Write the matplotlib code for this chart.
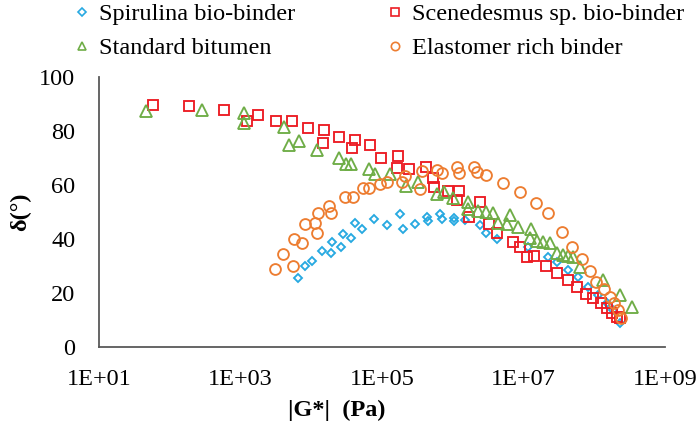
import matplotlib
matplotlib.use("Agg")
import matplotlib.pyplot as plt
from matplotlib.lines import Line2D

plt.rcParams['font.family'] = ['Liberation Serif', 'DejaVu Serif']

# |G*| (Pa) and phase angle (deg) for each binder
spir_g = [6.50e3, 8.16e3, 1.03e4, 1.42e4, 1.90e4, 1.96e4, 2.63e4, 2.81e4, 3.65e4, 4.15e4,
          5.21e4, 7.71e4, 1.18e5, 1.80e5, 1.98e5, 2.93e5, 4.32e5, 4.47e5, 6.60e5, 7.05e5,
          1.04e6, 1.04e6, 1.49e6, 2.43e6, 2.95e6, 4.22e6, 1.16e7, 2.22e7, 2.97e7, 4.26e7,
          5.89e7, 8.16e7, 1.13e8, 1.51e8, 1.84e8, 2.31e8]
spir_d = [25.6, 30.0, 31.9, 35.6, 34.8, 38.9, 37.0, 41.9, 40.4, 45.9,
          43.7, 47.4, 45.2, 49.3, 43.7, 45.6, 48.1, 46.7, 49.3, 47.4,
          47.8, 46.7, 47.0, 45.2, 42.2, 40.0, 37.0, 33.3, 31.5, 28.5,
          25.9, 22.2, 19.3, 16.3, 13.7, 8.9]

scen_g = [5.8e1, 1.87e2, 5.85e2, 1.24e3, 1.77e3, 3.18e3, 5.35e3, 9.0e3, 1.51e4, 1.47e4,
          2.47e4, 4.15e4, 3.77e4, 6.76e4, 9.7e4, 1.68e5, 1.63e5, 2.41e5, 4.19e5, 5.26e5,
          5.44e5, 8.57e5, 1.22e6, 1.15e6, 2.43e6, 1.70e6, 3.25e6, 4.22e6, 7.11e6, 8.93e6,
          1.12e7, 1.41e7, 2.08e7, 2.97e7, 4.26e7, 5.70e7, 7.64e7, 9.6e7, 1.24e8, 1.51e8,
          1.78e8, 2.10e8, 2.31e8]
scen_d = [89.6, 89.3, 87.8, 83.7, 85.9, 83.7, 83.7, 81.1, 80.4, 75.6,
          77.8, 76.7, 73.7, 74.8, 70.0, 70.7, 66.3, 65.9, 66.7, 62.6,
          59.3, 57.8, 57.8, 54.4, 53.7, 48.1, 45.6, 42.2, 38.9, 37.0,
          33.3, 33.7, 30.0, 27.4, 24.8, 22.2, 19.6, 18.1, 16.3, 14.4,
          12.6, 11.1, 10.7]

std_g = [4.6e1, 2.86e2, 1.12e3, 1.12e3, 4.12e3, 4.85e3, 6.72e3, 1.21e4, 2.47e4, 3.10e4,
         3.65e4, 6.55e4, 7.96e4, 1.30e5, 2.18e5, 3.23e5, 5.99e5, 7.52e5, 1.01e6, 1.64e6,
         1.64e6, 2.28e6, 2.95e6, 3.71e6, 4.37e6, 6.45e6, 5.85e6, 8.36e6, 1.28e7, 1.24e7,
         1.55e7, 1.89e7, 2.37e7, 2.97e7, 3.61e7, 4.26e7, 5.01e7, 6.30e7, 1.33e8, 2.31e8,
         3.42e8]
std_d = [87.4, 87.8, 86.7, 83.0, 81.5, 74.8, 76.3, 73.0, 70.0, 67.8,
         67.8, 65.9, 64.1, 64.1, 59.6, 61.1, 56.7, 57.4, 55.2, 53.7,
         51.1, 50.4, 50.0, 49.6, 45.9, 48.9, 45.6, 44.4, 43.7, 40.4,
         39.3, 38.9, 38.5, 34.8, 34.1, 33.7, 33.3, 29.6, 24.8, 19.3,
         14.8]

elas_g = [3.08e3, 3.99e3, 5.52e3, 5.70e3, 7.40e3, 8.16e3, 1.13e4, 1.21e4, 1.25e4, 1.78e4,
          1.90e4, 3.00e4, 3.89e4, 5.39e4, 6.55e4, 9.37e4, 1.18e5, 1.92e5, 2.12e5, 3.44e5,
          3.68e5, 5.99e5, 7.05e5, 1.15e6, 1.22e6, 2.00e6, 2.20e6, 2.95e6, 5.13e6, 8.93e6,
          1.50e7, 2.22e7, 3.50e7, 4.85e7, 6.72e7, 8.71e7, 1.06e8, 1.37e8, 1.67e8, 1.90e8,
          2.17e8, 2.39e8]
elas_d = [28.9, 34.4, 30.0, 40.0, 38.5, 45.6, 45.9, 42.2, 49.6, 52.2,
          49.6, 55.6, 55.6, 58.9, 58.9, 60.4, 61.1, 61.1, 63.3, 58.5,
          65.2, 65.6, 64.4, 66.7, 64.4, 66.7, 64.8, 63.7, 60.7, 57.4,
          53.3, 49.6, 42.6, 37.0, 32.6, 28.1, 24.1, 21.5, 18.5, 16.3,
          13.7, 10.7]

x_ticks = [1e1, 1e3, 1e5, 1e7, 1e9]
x_tick_labels = ['1E+01', '1E+03', '1E+05', '1E+07', '1E+09']
y_ticks = [0, 20, 40, 60, 80, 100]

blue = '#27A9E1'
red = '#EC1C24'
green = '#6FAD47'
orange = '#ED7D31'
fs = 17.5

fig = plt.figure(figsize=(7, 4.21), dpi=100)
ax = fig.add_axes([99 / 700, 1 - 347 / 421, 566 / 700, 270 / 421])

mk = dict(linestyle='none', markerfacecolor='none', markeredgewidth=1.35)
ax.plot(spir_g, spir_d, marker='D', ms=4.4, color=blue, **mk)
ax.plot(scen_g, scen_d, marker='s', ms=7.4, color=red, **mk)
ax.plot(std_g, std_d, marker='^', ms=8.0, color=green, **mk)
ax.plot(elas_g, elas_d, marker='o', ms=7.8, color=orange, **mk)

ax.set_xscale('log')
ax.set_xlim(1e1, 1e9)
ax.set_ylim(0, 100)
ax.set_xticks(x_ticks)
ax.set_xticklabels(x_tick_labels)
ax.minorticks_off()
ax.set_yticks(y_ticks)
ax.tick_params(axis='both', length=0, labelsize=fs)
ax.tick_params(axis='x', pad=16)
ax.tick_params(axis='y', pad=17)
for s in ['top', 'right']:
    ax.spines[s].set_visible(False)
for s in ['left', 'bottom']:
    ax.spines[s].set_color('#595959')
    ax.spines[s].set_linewidth(1.3)

ax.set_ylabel('δ(°)', fontsize=fs, fontweight='bold', labelpad=6)
ax.set_xlabel('|G*|  (Pa)', fontsize=fs, fontweight='bold')
ax.xaxis.set_label_coords(0.42, -0.195)

# legend markers are drawn a bit smaller than the data markers
lmk = dict(linestyle='none', markerfacecolor='none', markeredgewidth=1.2)
handles = [
    Line2D([], [], marker='D', ms=3.8, color=blue, **lmk),
    Line2D([], [], marker='^', ms=6.2, color=green, **lmk),
    Line2D([], [], marker='s', ms=5.8, color=red, **lmk),
    Line2D([], [], marker='o', ms=6.0, color=orange, **lmk),
]
labels = ['Spirulina bio-binder', 'Standard bitumen',
          'Scenedesmus sp. bio-binder', 'Elastomer rich binder']
fig.legend(handles, labels, ncol=2, loc='upper left',
           bbox_to_anchor=(72 / 700, 1 - 2 / 421), frameon=False, fontsize=fs,
           handlelength=0.7, handletextpad=0.35, columnspacing=3.75,
           labelspacing=0.5, borderpad=0.05, borderaxespad=0)

fig.savefig('out.png', dpi=100)
